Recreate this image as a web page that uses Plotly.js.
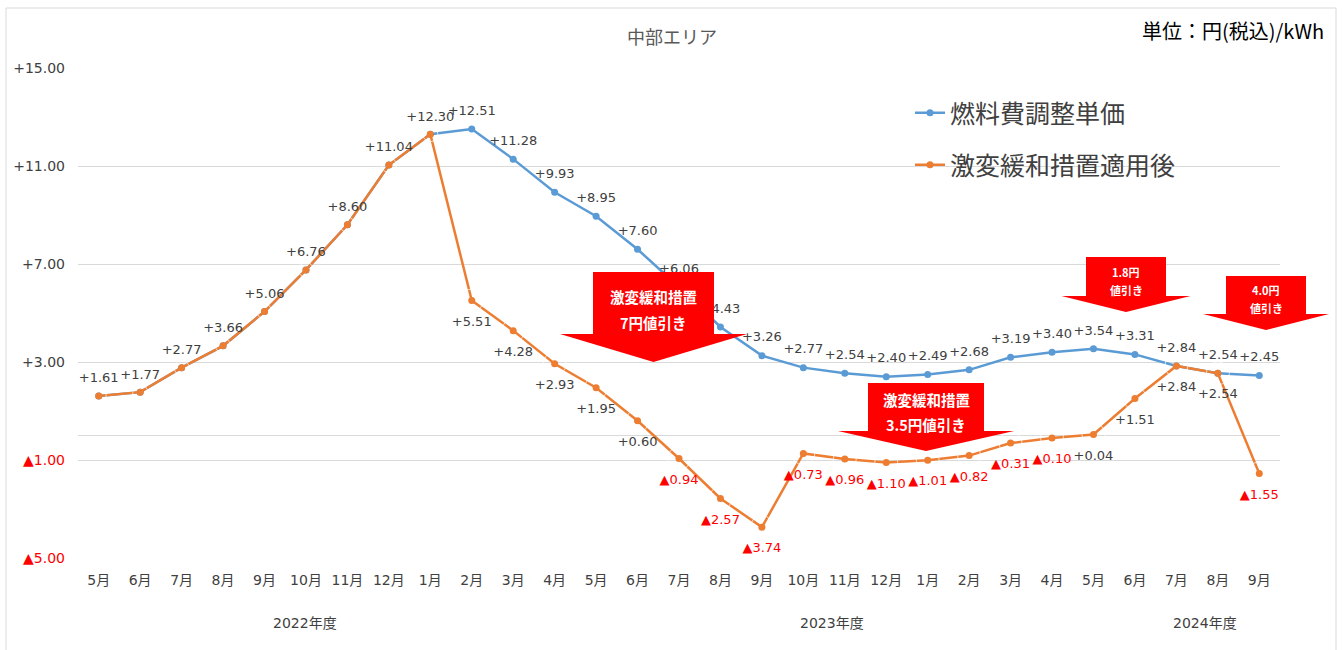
<!DOCTYPE html>
<html><head><meta charset="utf-8">
<script src="https://cdn.plot.ly/plotly-3.0.1.min.js"></script>
<style>html,body{margin:0;padding:0;background:#fff;} #chart{width:1343px;height:650px;}</style>
</head><body><div id="chart"></div>
<script>
// ---------- data ----------
const months = ['5月','6月','7月','8月','9月','10月','11月','12月','1月','2月','3月','4月','5月','6月','7月','8月','9月','10月','11月','12月','1月','2月','3月','4月','5月','6月','7月','8月','9月'];
const fiscalYears = ['2022年度','2023年度','2024年度'];
const fuelAdj = [1.61,1.77,2.77,3.66,5.06,6.76,8.60,11.04,12.30,12.51,11.28,9.93,8.95,7.60,6.06,4.43,3.26,2.77,2.54,2.40,2.49,2.68,3.19,3.40,3.54,3.31,2.84,2.54,2.45];
const afterRelief = [1.61,1.77,2.77,3.66,5.06,6.76,8.60,11.04,12.30,5.51,4.28,2.93,1.95,0.60,-0.94,-2.57,-3.74,-0.73,-0.96,-1.10,-1.01,-0.82,-0.31,-0.10,0.04,1.51,2.84,2.54,-1.55];
const yTickVals = [-5,-1,3,7,11,15];
const seriesNames = ['燃料費調整単価','激変緩和措置適用後'];
const arrowTexts = [['激変緩和措置','7円値引き'],['激変緩和措置','3.5円値引き'],['1.8円','値引き'],['4.0円','値引き']];
const chartTitle = '中部エリア';
const unitText = '単位：円(税込)/kWh';

// ---------- style ----------
const W = 1343, H = 650;
const M = {l:78, r:63, t:68, b:92};
const BLUE = '#5B9BD5', ORANGE = '#ED7D31', RED = '#FF0000', TXT = '#404040';
const FONT = 'DejaVu Sans, Noto Sans CJK JP, sans-serif';
const CJK = 'Noto Sans CJK JP, DejaVu Sans, sans-serif';
const pw = W - M.l - M.r, ph = H - M.t - M.b;
const px = v => (v - M.l) / pw;       // pixel -> paper x
const py = v => (H - M.b - v) / ph;   // pixel -> paper y
const fyLabelX = [4.98, 17.7, 26.7];  // x placement of fiscal-year labels (axis units)
// arrow geometry in pixels: centre x, body top, body bottom, tip, body half width, wing half width, text line y's, font size
const arrowGeom = [
  {cx:653.5, top:272, bb:334, tip:362, bh:60.5, wh:93.5, ly:[296,322], fs:14.5},
  {cx:926, top:383, bb:431, tip:451, bh:58, wh:88, ly:[399,424], fs:14.5},
  {cx:1126, top:257, bb:296, tip:312, bh:40, wh:64.5, ly:[272,290], fs:11},
  {cx:1266, top:276, bb:314, tip:330, bh:40, wh:63, ly:[290,308], fs:11}
];

const fmt = v => (v >= 0 ? '+' : '▲') + Math.abs(v).toFixed(2);
const col = v => v >= 0 ? TXT : RED;
const idx = months.map((_, i) => i);
let firstDiff = fuelAdj.findIndex((v, i) => v !== afterRelief[i]);

const traces = [
  {x: idx, y: fuelAdj, name: seriesNames[0], mode: 'lines+markers', type: 'scatter',
   line: {color: BLUE, width: 2.5}, marker: {color: BLUE, size: 7}, legend: 'legend'},
  {x: idx, y: afterRelief, name: seriesNames[1], mode: 'lines+markers', type: 'scatter',
   line: {color: ORANGE, width: 2.5}, marker: {color: ORANGE, size: 7}, legend: 'legend2'},
  // data labels
  {x: idx, y: fuelAdj, mode: 'markers+text', type: 'scatter', showlegend: false, hoverinfo: 'skip', cliponaxis: false,
   text: fuelAdj.map((v, i) => i < firstDiff ? '' : fmt(v)),
   textposition: 'top center',
   textfont: {family: FONT, size: 13, color: fuelAdj.map(col)},
   marker: {size: 16, color: 'rgba(0,0,0,0)'}},
  {x: idx, y: afterRelief, mode: 'markers+text', type: 'scatter', showlegend: false, hoverinfo: 'skip', cliponaxis: false,
   text: afterRelief.map(fmt),
   textposition: afterRelief.map((v, i) => i < firstDiff ? 'top center' : 'bottom center'),
   textfont: {family: FONT, size: 13, color: afterRelief.map(col)},
   marker: {size: afterRelief.map((v, i) => i < firstDiff ? 15 : 23), color: 'rgba(0,0,0,0)'}}
];

const shapes = [
  {type: 'rect', xref: 'paper', yref: 'paper', x0: px(6), x1: px(1336), y0: py(652), y1: py(8),
   line: {color: '#D9D9D9', width: 1}, fillcolor: 'rgba(0,0,0,0)', layer: 'below'}
];
const annotations = [
  {xref: 'paper', yref: 'paper', x: px(1326), y: py(31), xanchor: 'right', yanchor: 'middle', showarrow: false,
   text: unitText, font: {family: CJK, size: 20, color: '#000000'}}
];
fiscalYears.forEach((t, i) => annotations.push({
  xref: 'x', yref: 'paper', x: fyLabelX[i], y: py(623), yanchor: 'middle', showarrow: false,
  text: t, font: {family: FONT, size: 14, color: TXT}}));
arrowGeom.forEach((g, i) => {
  const p = [[g.cx - g.bh, g.top], [g.cx + g.bh, g.top], [g.cx + g.bh, g.bb], [g.cx + g.wh, g.bb],
             [g.cx, g.tip], [g.cx - g.wh, g.bb], [g.cx - g.bh, g.bb]];
  shapes.push({type: 'path', xref: 'paper', yref: 'paper', layer: 'above',
    path: 'M' + p.map(q => px(q[0]) + ',' + py(q[1])).join('L') + 'Z',
    fillcolor: RED, line: {width: 0}});
  arrowTexts[i].forEach((t, j) => annotations.push({
    xref: 'paper', yref: 'paper', x: px(g.cx), y: py(g.ly[j]), xanchor: 'center', yanchor: 'middle', showarrow: false,
    text: t, font: {family: CJK, size: g.fs, color: '#FFFFFF', weight: 700}}));
});

const layout = {
  width: W, height: H, autosize: false,
  margin: {l: M.l, r: M.r, t: M.t, b: M.b, pad: 0},
  paper_bgcolor: '#FFFFFF', plot_bgcolor: '#FFFFFF',
  font: {family: FONT, color: TXT},
  title: {text: chartTitle, x: 672 / W, xanchor: 'center', y: 1 - 38 / H, yanchor: 'middle', yref: 'container',
          font: {family: CJK, size: 18, color: '#595959'}},
  xaxis: {range: [-0.5, 28.5], tickmode: 'array', tickvals: idx, ticktext: months, showgrid: false, zeroline: false,
          showline: false, ticks: '', tickfont: {family: FONT, size: 14, color: TXT}, ticklabelstandoff: 12, fixedrange: true},
  yaxis: {range: [-5, 15], tickmode: 'array', tickvals: yTickVals,
          ticktext: yTickVals.map(v => v < 0 ? '<span style="color:' + RED + '">' + fmt(v) + '</span>' : fmt(v)),
          showgrid: true, gridcolor: '#D9D9D9', gridwidth: 1, zeroline: true, zerolinecolor: '#D9D9D9', zerolinewidth: 1,
          showline: false, ticks: '', tickfont: {family: FONT, size: 14, color: TXT}, ticklabelstandoff: 12, fixedrange: true},
  legend: {x: px(910), y: py(113), xanchor: 'left', yanchor: 'middle', bgcolor: 'rgba(0,0,0,0)',
           font: {family: CJK, size: 25, color: TXT}},
  legend2: {x: px(910), y: py(165), xanchor: 'left', yanchor: 'middle', bgcolor: 'rgba(0,0,0,0)',
            font: {family: CJK, size: 25, color: TXT}},
  shapes: shapes,
  annotations: annotations,
  hovermode: false
};

Plotly.newPlot('chart', traces, layout, {displayModeBar: false, staticPlot: true});
</script>
</body></html>
